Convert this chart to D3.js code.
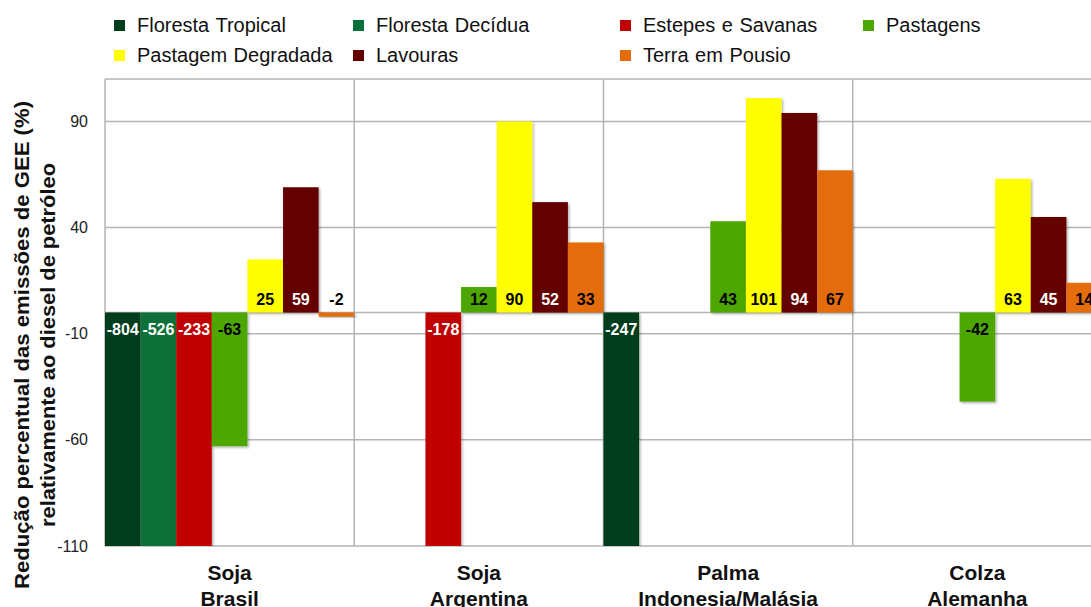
<!DOCTYPE html>
<html>
<head>
<meta charset="utf-8">
<script src="https://cdn.jsdelivr.net/npm/d3@7/dist/d3.min.js"></script>
<style>
  html, body { margin: 0; padding: 0; background: #fff; }
  svg { display: block; font-family: Arial, "Liberation Sans", sans-serif; }
</style>
</head>
<body>
<svg id="chart" width="1091" height="607"></svg>
<script>
// Culturas / regiões (two-line labels)
const crops = [
  ["Soja", "Brasil"],
  ["Soja", "Argentina"],
  ["Palma", "Indonesia/Malásia"],
  ["Colza", "Alemanha"]
];

// Tipos de uso anterior do solo
const landUses = [
  "Floresta Tropical", "Floresta Decídua", "Estepes e Savanas", "Pastagens",
  "Pastagem Degradada", "Lavouras", "Terra em Pousio"
];
const landColors = ["#003d1b", "#077039", "#c00000", "#4ea700", "#ffff00", "#650000", "#e46c0a"];
const labelColors = ["#fff", "#fff", "#fff", "#000", "#000", "#fff", "#000"];

// Redução das emissões (%) por uso do solo, uma lista por cultura (null = sem dado)
const sojaBrasil    = [-804, -526, -233, -63, 25, 59, -2];
const sojaArgentina = [null, null, -178, 12, 90, 52, 33];
const palmaIndMal   = [-247, null, null, 43, 101, 94, 67];
const colzaAlemanha = [null, null, null, -42, 63, 45, 14];
const seriesByCrop = [sojaBrasil, sojaArgentina, palmaIndMal, colzaAlemanha];

const yTicks = [-110, -60, -10, 40, 90];
const yDomain = [-110, 110];

const svg = d3.select("#chart");
const plot = { left: 105, right: 1102, top: 79, bottom: 546 };

const x0 = d3.scaleBand()
  .domain(d3.range(crops.length))
  .range([plot.left, plot.right])
  .paddingInner(0).paddingOuter(0);
const x1 = d3.scaleBand()
  .domain(d3.range(landUses.length))
  .range([0, x0.bandwidth()])
  .padding(0);
const y = d3.scaleLinear().domain(yDomain).range([plot.bottom, plot.top]);

const defs = svg.append("defs");
defs.append("clipPath").attr("id", "plotClip")
  .append("rect")
  .attr("x", plot.left).attr("y", plot.top)
  .attr("width", plot.right - plot.left).attr("height", plot.bottom - plot.top);
const shadow = defs.append("filter").attr("id", "barShadow")
  .attr("x", "-10%").attr("y", "-10%").attr("width", "130%").attr("height", "130%");
shadow.append("feDropShadow")
  .attr("dx", 1.5).attr("dy", 1.5).attr("stdDeviation", 1)
  .attr("flood-color", "#000").attr("flood-opacity", 0.3);

const gridColor = "#b4b4b4";

// Horizontal gridlines
svg.append("g")
  .selectAll("line")
  .data(yTicks.concat([yDomain[1]]))
  .join("line")
  .attr("x1", plot.left).attr("x2", plot.right)
  .attr("y1", d => y(d)).attr("y2", d => y(d))
  .attr("stroke", gridColor).attr("stroke-width", 1.5);

// Vertical separators between crops
svg.append("g")
  .selectAll("line")
  .data(d3.range(crops.length + 1))
  .join("line")
  .attr("x1", d => plot.left + d * x0.bandwidth())
  .attr("x2", d => plot.left + d * x0.bandwidth())
  .attr("y1", plot.top).attr("y2", plot.bottom)
  .attr("stroke", gridColor).attr("stroke-width", 1.5);

// Category axis at zero
svg.append("line")
  .attr("x1", plot.left).attr("x2", plot.right)
  .attr("y1", y(0)).attr("y2", y(0))
  .attr("stroke", gridColor).attr("stroke-width", 1.5);

// Bars
const flat = [];
seriesByCrop.forEach((vals, ci) => vals.forEach((v, si) => {
  if (v !== null) flat.push({ ci, si, v });
}));

const barsG = svg.append("g").attr("clip-path", "url(#plotClip)");
barsG.selectAll("rect")
  .data(flat)
  .join("rect")
  .attr("x", d => x0(d.ci) + x1(d.si))
  .attr("width", x1.bandwidth())
  .attr("y", d => y(Math.max(0, d.v)))
  .attr("height", d => Math.abs(y(d.v) - y(0)))
  .attr("fill", d => landColors[d.si])
  .attr("filter", "url(#barShadow)");

// Value labels at the bar base (tiny negative bars get their label above the axis)
svg.append("g")
  .selectAll("text")
  .data(flat)
  .join("text")
  .attr("x", d => x0(d.ci) + x1(d.si) + x1.bandwidth() / 2)
  .attr("y", d => (d.v > -5) ? y(0) - 8 : y(0) + 22)
  .attr("text-anchor", "middle")
  .attr("font-size", 16).attr("font-weight", "bold")
  .attr("fill", d => (d.v < 0 && d.v > -5) ? "#000" : labelColors[d.si])
  .text(d => String(d.v));

// Y axis tick labels
const yAxis = d3.axisLeft(y).tickValues(yTicks).tickSize(0).tickPadding(17)
  .tickFormat(d => String(d));
const yg = svg.append("g").attr("transform", `translate(${plot.left},0)`).call(yAxis);
yg.select(".domain").remove();
yg.selectAll("text")
  .attr("font-size", 16).attr("fill", "#222")
  .attr("font-family", "Arial, 'Liberation Sans', sans-serif");

// Y axis title
const titleG = svg.append("g")
  .attr("transform", "translate(0,345) rotate(-90)")
  .attr("font-size", 20).attr("font-weight", "bold").attr("fill", "#111")
  .attr("text-anchor", "middle");
titleG.append("text").attr("x", 0).attr("y", 29)
  .attr("textLength", 488).attr("lengthAdjust", "spacingAndGlyphs")
  .text("Redução percentual das emissões de GEE (%)");
titleG.append("text").attr("x", 0).attr("y", 55)
  .attr("textLength", 364).attr("lengthAdjust", "spacingAndGlyphs")
  .text("relativamente ao diesel de petróleo");

// Crop labels
const catG = svg.append("g")
  .attr("font-size", 21).attr("font-weight", "bold").attr("fill", "#111")
  .attr("text-anchor", "middle");
crops.forEach((lines, i) => {
  const cx = x0(i) + x0.bandwidth() / 2;
  lines.forEach((t, j) => {
    catG.append("text").attr("x", cx).attr("y", 580 + j * 26).text(t);
  });
});

// Legend
const legendPos = [
  { x: 114, y: 20 }, { x: 353, y: 20 }, { x: 620, y: 20 }, { x: 863, y: 20 },
  { x: 114, y: 50 }, { x: 353, y: 50 }, { x: 620, y: 50 }
];
const lg = svg.append("g");
landUses.forEach((name, i) => {
  const p = legendPos[i];
  lg.append("rect").attr("x", p.x).attr("y", p.y)
    .attr("width", 11).attr("height", 11).attr("fill", landColors[i]);
  lg.append("text").attr("x", p.x + 23).attr("y", p.y + 12)
    .attr("font-size", 20).attr("fill", "#111").attr("word-spacing", 1).text(name);
});
</script>
</body>
</html>
